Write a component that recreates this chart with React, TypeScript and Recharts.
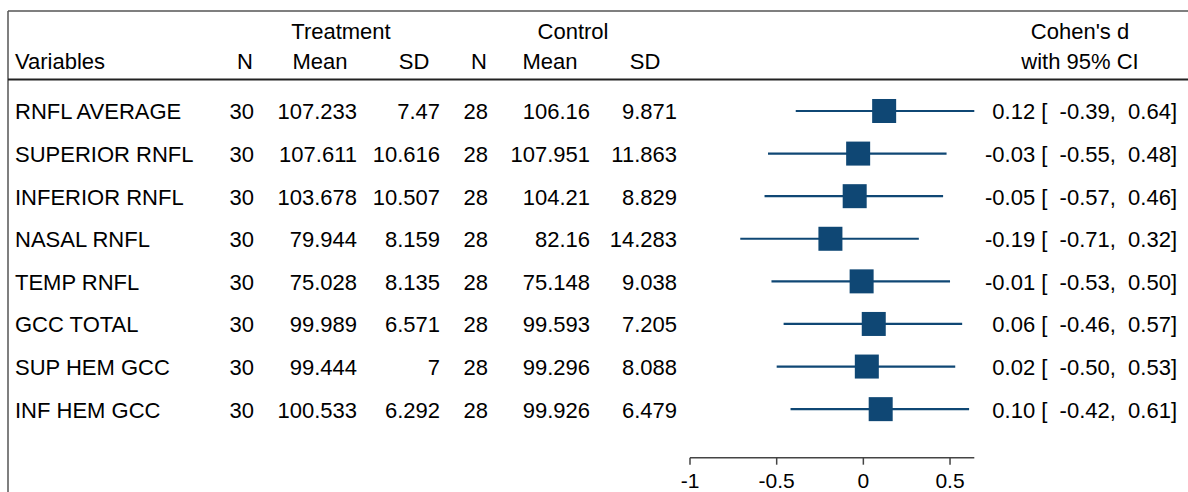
import React from "react";
import { ScatterChart, Scatter, XAxis, YAxis, ErrorBar, Customized } from "recharts";

const VARIABLES = [
  "RNFL AVERAGE",
  "SUPERIOR RNFL",
  "INFERIOR RNFL",
  "NASAL RNFL",
  "TEMP RNFL",
  "GCC TOTAL",
  "SUP HEM GCC",
  "INF HEM GCC",
];
const T_N = [30, 30, 30, 30, 30, 30, 30, 30];
const T_MEAN = [107.233, 107.611, 103.678, 79.944, 75.028, 99.989, 99.444, 100.533];
const T_SD = [7.47, 10.616, 10.507, 8.159, 8.135, 6.571, 7, 6.292];
const C_N = [28, 28, 28, 28, 28, 28, 28, 28];
const C_MEAN = [106.16, 107.951, 104.21, 82.16, 75.148, 99.593, 99.296, 99.926];
const C_SD = [9.871, 11.863, 8.829, 14.283, 9.038, 7.205, 8.088, 6.479];
const COHEN_D = [0.12, -0.03, -0.05, -0.19, -0.01, 0.06, 0.02, 0.1];
const CI_LO = [-0.39, -0.55, -0.57, -0.71, -0.53, -0.46, -0.5, -0.42];
const CI_HI = [0.64, 0.48, 0.46, 0.32, 0.5, 0.57, 0.53, 0.61];
const X_TICKS = [-1, -0.5, 0, 0.5];
const X_DOMAIN = [-1, 0.64];

const W = 1188;
const H = 492;
const FONT = "'Liberation Sans', Arial, sans-serif";
const NAVY = "#0f4774";
const FS = 22;

const data = VARIABLES.map((name, i) => ({
  row: i + 1,
  name,
  tn: T_N[i],
  tmean: T_MEAN[i],
  tsd: T_SD[i],
  cn: C_N[i],
  cmean: C_MEAN[i],
  csd: C_SD[i],
  d: COHEN_D[i],
  ci: [COHEN_D[i] - CI_LO[i], CI_HI[i] - COHEN_D[i]],
  label: `${COHEN_D[i].toFixed(2)} [  ${CI_LO[i].toFixed(2)},  ${CI_HI[i].toFixed(2)}]`,
}));

// column right edges for the table text
const COLS = [
  { key: "tn", x: 254 },
  { key: "tmean", x: 357 },
  { key: "tsd", x: 440 },
  { key: "cn", x: 488 },
  { key: "cmean", x: 590 },
  { key: "csd", x: 677 },
];

const RowShape = (props: any) => {
  const { cx, cy, payload } = props;
  const s = 24;
  const ty = cy + 8.5;
  return (
    <g>
      <rect x={cx - s / 2} y={cy - s / 2} width={s} height={s} fill={NAVY} />
      <text x={15} y={ty} fontSize={FS} fontFamily={FONT} fill="#000">
        {payload.name}
      </text>
      {COLS.map((c) => (
        <text key={c.key} x={c.x} y={ty} fontSize={FS} fontFamily={FONT} fill="#000" textAnchor="end">
          {String(payload[c.key])}
        </text>
      ))}
      <text x={1177} y={ty} fontSize={FS} fontFamily={FONT} fill="#000" textAnchor="end" style={{ whiteSpace: "pre" }}>
        {payload.label}
      </text>
    </g>
  );
};

const HEAD1 = [
  { t: "Treatment", x: 341 },
  { t: "Control", x: 573 },
  { t: "Cohen's d", x: 1080 },
];
const HEAD2 = [
  { t: "N", x: 245 },
  { t: "Mean", x: 320 },
  { t: "SD", x: 414 },
  { t: "N", x: 479 },
  { t: "Mean", x: 550 },
  { t: "SD", x: 645 },
  { t: "with 95% CI", x: 1080 },
];

const Header = () => (
  <g>
    <line x1={8} y1={11} x2={W} y2={11} stroke="#555" strokeWidth={1.5} />
    <line x1={8} y1={11} x2={8} y2={H} stroke="#555" strokeWidth={1.5} />
    <line x1={8} y1={79.5} x2={W} y2={79.5} stroke="#222" strokeWidth={2} />
    {HEAD1.map((h, i) => (
      <text key={"h1" + i} x={h.x} y={39} fontSize={FS} fontFamily={FONT} fill="#000" textAnchor="middle">
        {h.t}
      </text>
    ))}
    <text x={15} y={69} fontSize={FS} fontFamily={FONT} fill="#000">
      Variables
    </text>
    {HEAD2.map((h, i) => (
      <text key={"h2" + i} x={h.x} y={69} fontSize={FS} fontFamily={FONT} fill="#000" textAnchor="middle">
        {h.t}
      </text>
    ))}
  </g>
);

export default function App() {
  return (
    <div style={{ width: W, height: H }}>
      <style>{`body{margin:0}`}</style>
      <ScatterChart width={W} height={H} margin={{ top: 68.4, right: 213.7, bottom: 0, left: 690 }}>
        <Customized component={Header} />
        <XAxis
          type="number"
          dataKey="d"
          domain={X_DOMAIN}
          ticks={X_TICKS}
          height={34.3}
          tickSize={7}
          tickMargin={8}
          axisLine={{ stroke: "#444", strokeWidth: 1.5 }}
          tickLine={{ stroke: "#444", strokeWidth: 1.5 }}
          tick={{ fontSize: 21, fontFamily: FONT, fill: "#000" }}
          tickFormatter={(v: number) => String(v)}
        />
        <YAxis type="number" dataKey="row" domain={[0, 9.14]} hide reversed width={0} />
        <Scatter data={data} fill={NAVY} shape={RowShape} isAnimationActive={false}>
          <ErrorBar dataKey="ci" direction="x" width={0} stroke={NAVY} strokeWidth={2.2} />
        </Scatter>
      </ScatterChart>
    </div>
  );
}
